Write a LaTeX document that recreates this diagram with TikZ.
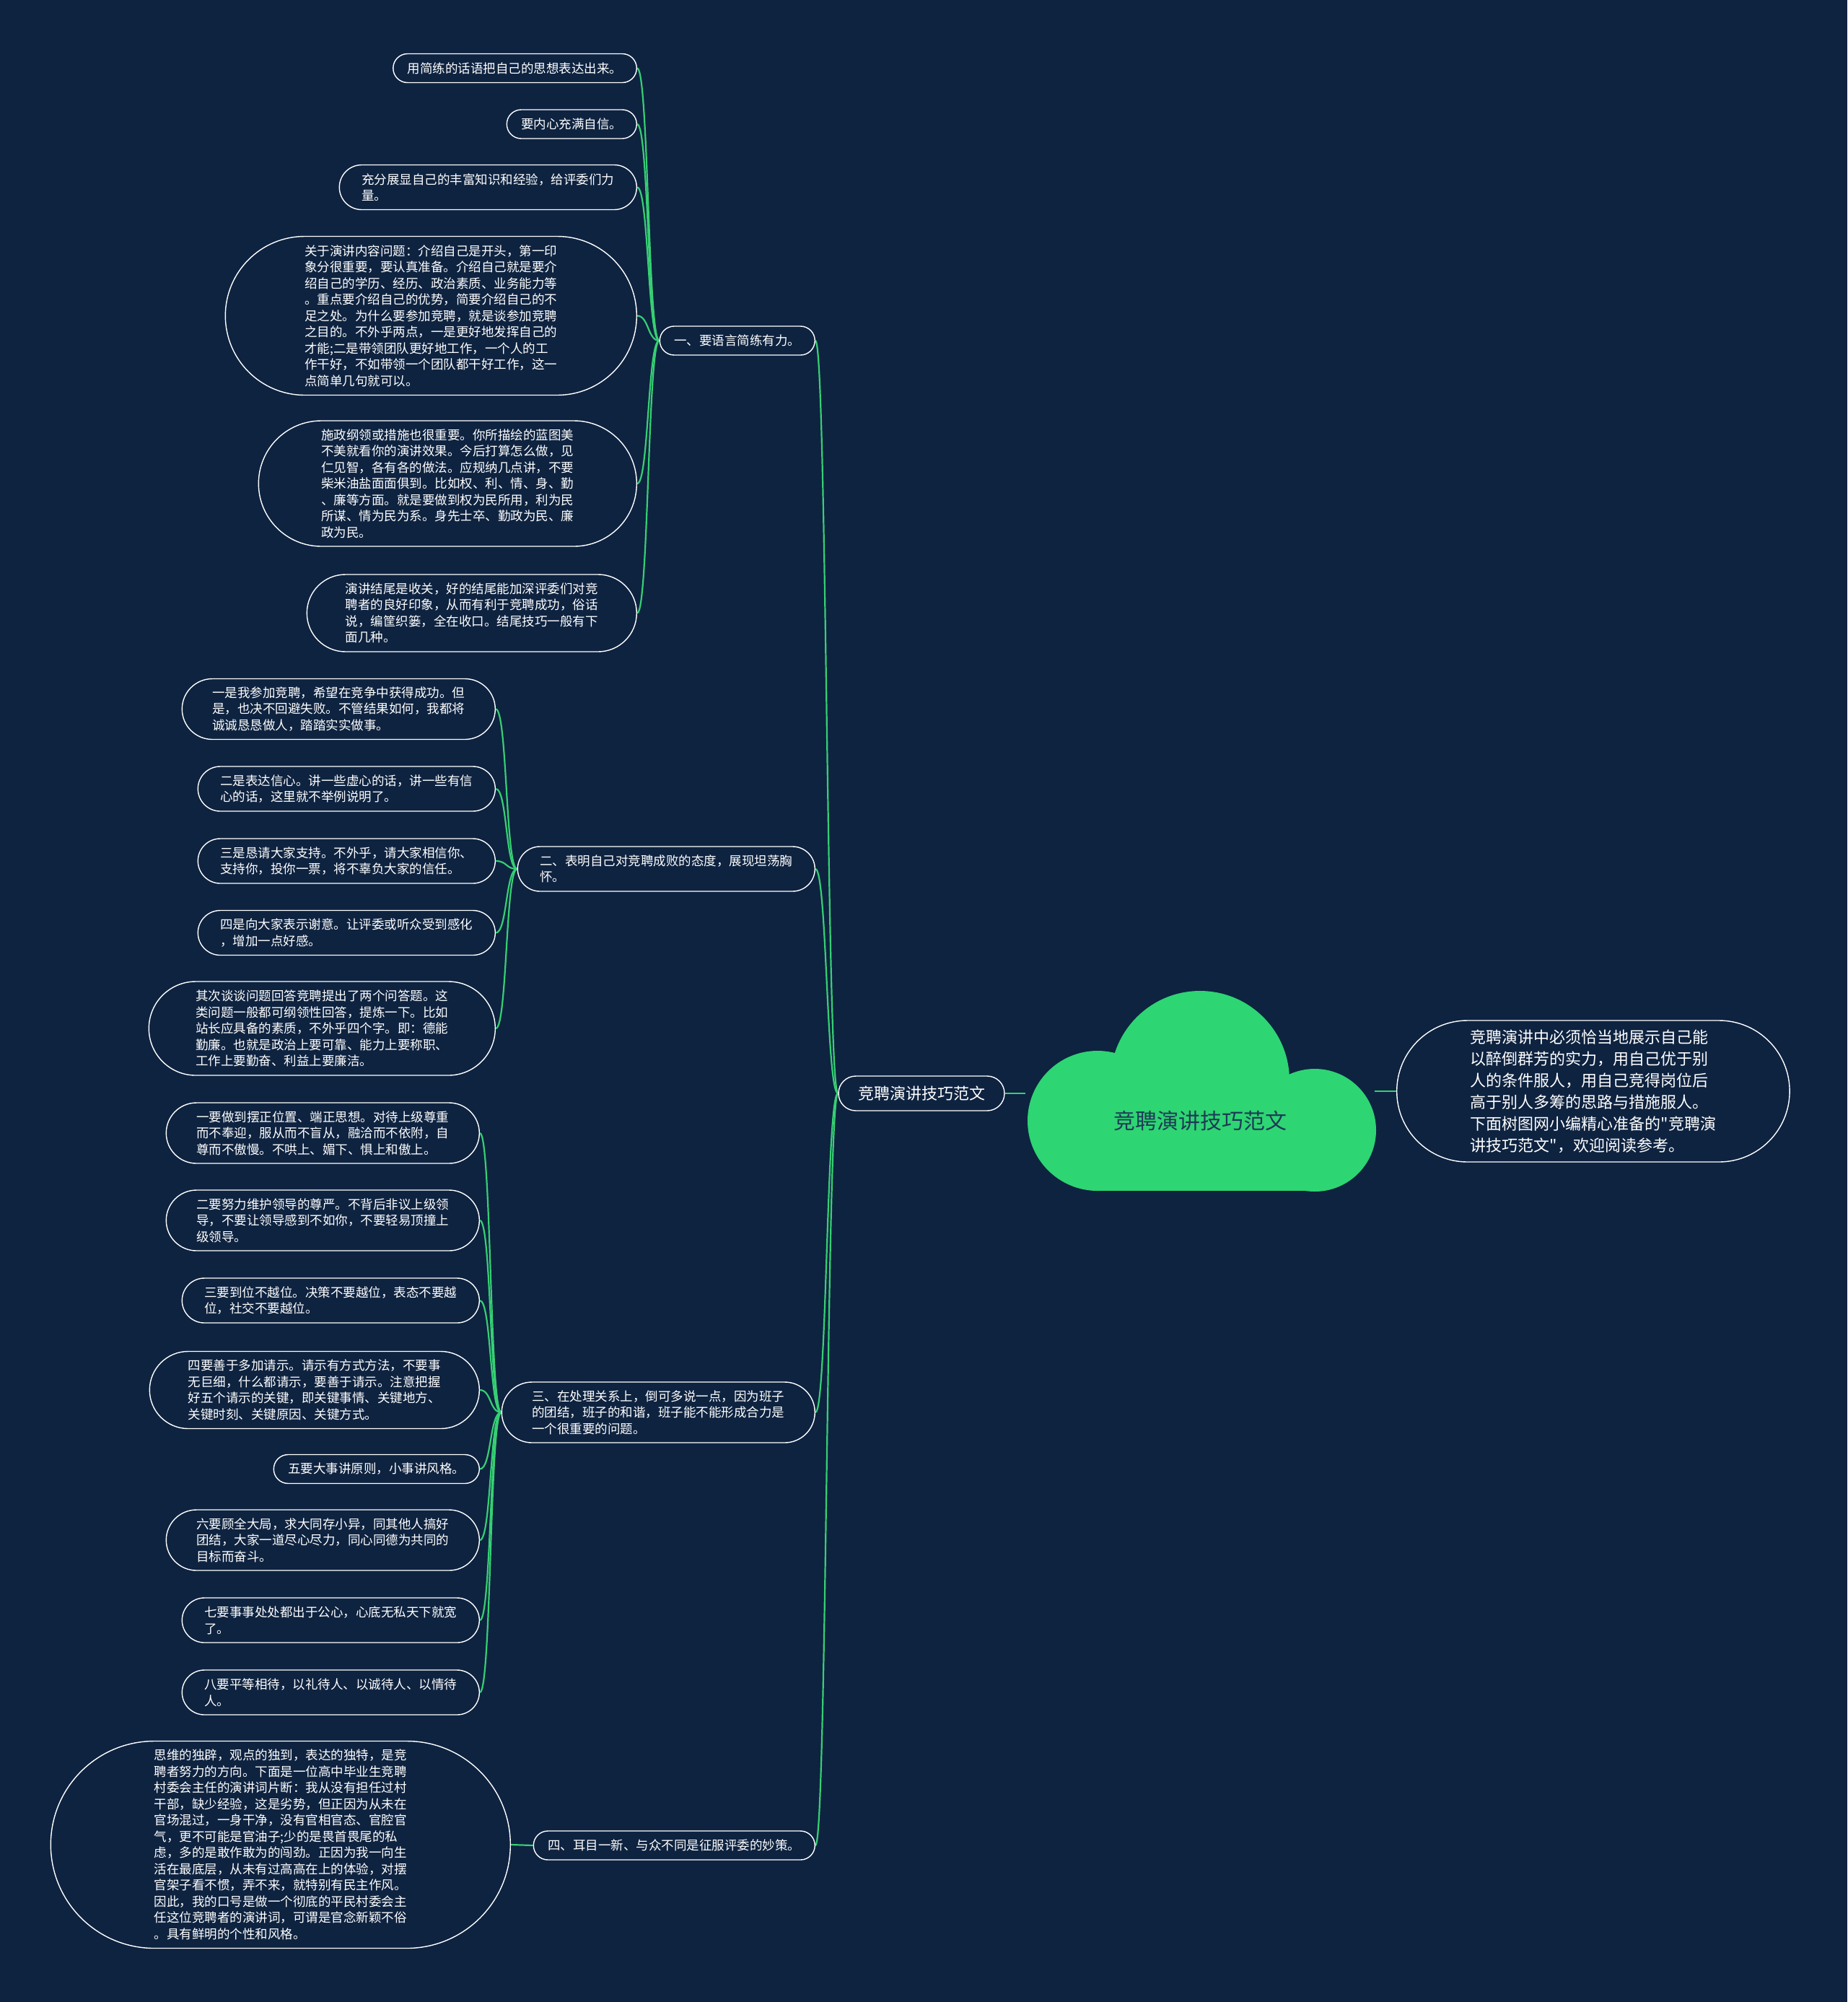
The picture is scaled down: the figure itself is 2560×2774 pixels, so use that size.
\documentclass[tikz,border=0pt]{standalone}
\usepackage{fontspec}
\newfontfamily\cjk{Noto Sans CJK SC}
\definecolor{bgc}{HTML}{0E2340}
\definecolor{lgreen}{HTML}{36CF73}
\definecolor{cgreen}{HTML}{2ED573}
\definecolor{roottext}{HTML}{1E3A56}
\pgfdeclarelayer{bglayer}
\pgfdeclarelayer{linklayer}
\pgfsetlayers{bglayer,linklayer,main}
\tikzset{
  pillbase/.style={rectangle, draw=white, line width=1.4pt, fill=bgc, text=white, align=left,
    inner ysep=10pt, font=\cjk\fontsize{17.5}{22.5}\selectfont},
  lf/.style={pillbase, inner xsep=#1pt, rounded corners=#1pt, minimum height=#1*2pt},
  leaf/.style={lf=#1, anchor=east},
  link/.style={draw=lgreen, line width=2.2pt},
}
\newcommand{\curvelink}[2]{\draw[link] (#1.west) .. controls +(-16,0) and +(16,0) .. (#2.east);}
\begin{document}
\begin{tikzpicture}[x=1pt,y=-1pt]
\begin{pgfonlayer}{bglayer}
\fill[bgc] (0,0) rectangle (2560,2774);
\end{pgfonlayer}
\useasboundingbox (0,0) rectangle (2560,2774);

% cloud
\fill[cgreen] (1663,1497) circle[radius=124pt];
\fill[cgreen] (1521,1553) circle[radius=97pt];
\fill[cgreen] (1822,1566) circle[radius=85pt];
\fill[cgreen] (1521,1500) rectangle (1822,1650);
\node[font=\cjk\fontsize{30}{36}\selectfont, text=roottext, minimum width=484pt, inner sep=0pt] (root) at (1663,1553) {竞聘演讲技巧范文};

\node[pillbase, font=\cjk\fontsize{22}{26}\selectfont, inner xsep=27pt, rounded corners=24pt, minimum height=48pt] (main) at (1277,1515) {竞聘演讲技巧范文};
\node[pillbase, anchor=west, font=\cjk\fontsize{22}{30}\selectfont, inner xsep=102pt, rounded corners=98pt, minimum height=196pt] (desc) at (1935,1512) {竞聘演讲中必须恰当地展示自己能\\以醉倒群芳的实力，用自己优于别\\人的条件服人，用自己竞得岗位后\\高于别人多筹的思路与措施服人。\\下面树图网小编精心准备的"竞聘演\\讲技巧范文"，欢迎阅读参考。};

% branch nodes
\node[leaf=20] (b1) at (1130,472) {一、要语言简练有力。};
\node[leaf=31] (b2) at (1130,1204) {二、表明自己对竞聘成败的态度，展现坦荡胸\\怀。};
\node[leaf=42] (b3) at (1130,1957) {三、在处理关系上，倒可多说一点，因为班子\\的团结，班子的和谐，班子能不能形成合力是\\一个很重要的问题。};
\node[leaf=20] (b4) at (1130,2557) {四、耳目一新、与众不同是征服评委的妙策。};

% branch 1 leaves
\node[leaf=20] (l1) at (883,94.5) {用简练的话语把自己的思想表达出来。};
\node[leaf=20] (l2) at (883,172) {要内心充满自信。};
\node[leaf=31] (l3) at (883,259.5) {充分展显自己的丰富知识和经验，给评委们力\\量。};
\node[leaf=110] (l4) at (883,437.5) {关于演讲内容问题：介绍自己是开头，第一印\\象分很重要，要认真准备。介绍自己就是要介\\绍自己的学历、经历、政治素质、业务能力等\\。重点要介绍自己的优势，简要介绍自己的不\\足之处。为什么要参加竞聘，就是谈参加竞聘\\之目的。不外乎两点，一是更好地发挥自己的\\才能;二是带领团队更好地工作，一个人的工\\作干好，不如带领一个团队都干好工作，这一\\点简单几句就可以。};
\node[leaf=87] (l5) at (883,670) {施政纲领或措施也很重要。你所描绘的蓝图美\\不美就看你的演讲效果。今后打算怎么做，见\\仁见智，各有各的做法。应规纳几点讲，不要\\柴米油盐面面俱到。比如权、利、情、身、勤\\、廉等方面。就是要做到权为民所用，利为民\\所谋、情为民为系。身先士卒、勤政为民、廉\\政为民。};
\node[leaf=53.5] (l6) at (883,849.5) {演讲结尾是收关，好的结尾能加深评委们对竞\\聘者的良好印象，从而有利于竞聘成功，俗话\\说，编筐织篓，全在收口。结尾技巧一般有下\\面几种。};

% branch 2 leaves
\node[leaf=42] (m1) at (687,982.5) {一是我参加竞聘，希望在竞争中获得成功。但\\是，也决不回避失败。不管结果如何，我都将\\诚诚恳恳做人，踏踏实实做事。};
\node[leaf=31] (m2) at (687,1093) {二是表达信心。讲一些虚心的话，讲一些有信\\心的话，这里就不举例说明了。};
\node[leaf=31] (m3) at (687,1193) {三是恳请大家支持。不外乎，请大家相信你、\\支持你，投你一票，将不辜负大家的信任。};
\node[leaf=31] (m4) at (687,1292.5) {四是向大家表示谢意。让评委或听众受到感化\\，增加一点好感。};
\node[leaf=65] (m5) at (687,1425) {其次谈谈问题回答竞聘提出了两个问答题。这\\类问题一般都可纲领性回答，提炼一下。比如\\站长应具备的素质，不外乎四个字。即：德能\\勤廉。也就是政治上要可靠、能力上要称职、\\工作上要勤奋、利益上要廉洁。};

% branch 3 leaves
\node[leaf=42] (n1) at (665,1570) {一要做到摆正位置、端正思想。对待上级尊重\\而不奉迎，服从而不盲从，融洽而不依附，自\\尊而不傲慢。不哄上、媚下、惧上和傲上。};
\node[leaf=42] (n2) at (665,1691) {二要努力维护领导的尊严。不背后非议上级领\\导，不要让领导感到不如你，不要轻易顶撞上\\级领导。};
\node[leaf=31] (n3) at (665,1802) {三要到位不越位。决策不要越位，表态不要越\\位，社交不要越位。};
\node[leaf=53.5] (n4) at (665,1926) {四要善于多加请示。请示有方式方法，不要事\\无巨细，什么都请示，要善于请示。注意把握\\好五个请示的关键，即关键事情、关键地方、\\关键时刻、关键原因、关键方式。};
\node[leaf=20] (n5) at (665,2035.5) {五要大事讲原则，小事讲风格。};
\node[leaf=42] (n6) at (665,2134) {六要顾全大局，求大同存小异，同其他人搞好\\团结，大家一道尽心尽力，同心同德为共同的\\目标而奋斗。};
\node[leaf=31] (n7) at (665,2245) {七要事事处处都出于公心，心底无私天下就宽\\了。};
\node[leaf=31] (n8) at (665,2345) {八要平等相待，以礼待人、以诚待人、以情待\\人。};

% branch 4 leaf
\node[leaf=143.5] (p1) at (708,2556) {思维的独辟，观点的独到，表达的独特，是竞\\聘者努力的方向。下面是一位高中毕业生竞聘\\村委会主任的演讲词片断：我从没有担任过村\\干部，缺少经验，这是劣势，但正因为从未在\\官场混过，一身干净，没有官相官态、官腔官\\气，更不可能是官油子;少的是畏首畏尾的私\\虑，多的是敢作敢为的闯劲。正因为我一向生\\活在最底层，从未有过高高在上的体验，对摆\\官架子看不惯，弄不来，就特别有民主作风。\\因此，我的口号是做一个彻底的平民村委会主\\任这位竞聘者的演讲词，可谓是官念新颖不俗\\。具有鲜明的个性和风格。};

\begin{pgfonlayer}{linklayer}
\draw[link] (main.east) -- (main.east -| root.west);
\draw[link] (desc.west) -- (desc.west -| root.east);
\curvelink{main}{b1}
\curvelink{main}{b2}
\curvelink{main}{b3}
\curvelink{main}{b4}
\curvelink{b1}{l1}
\curvelink{b1}{l2}
\curvelink{b1}{l3}
\curvelink{b1}{l4}
\curvelink{b1}{l5}
\curvelink{b1}{l6}
\curvelink{b2}{m1}
\curvelink{b2}{m2}
\curvelink{b2}{m3}
\curvelink{b2}{m4}
\curvelink{b2}{m5}
\curvelink{b3}{n1}
\curvelink{b3}{n2}
\curvelink{b3}{n3}
\curvelink{b3}{n4}
\curvelink{b3}{n5}
\curvelink{b3}{n6}
\curvelink{b3}{n7}
\curvelink{b3}{n8}
\curvelink{b4}{p1}
\end{pgfonlayer}
\end{tikzpicture}
\end{document}
